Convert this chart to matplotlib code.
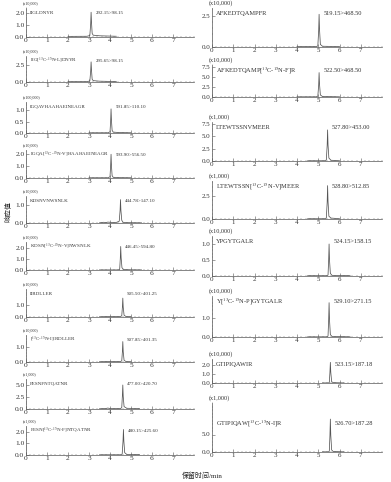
import matplotlib
matplotlib.use("Agg")
import matplotlib.pyplot as plt
from matplotlib.ticker import MultipleLocator, AutoMinorLocator

plt.rcParams["font.family"] = ["Liberation Serif", "Noto Sans CJK SC"]
plt.rcParams["mathtext.fontset"] = "stix"

W, H = 391, 482

# ---- left column ----
left_labels = ["IIGLDNYR", r"IIG[$^{13}$C-$^{15}$N-L]DNYR",
               "IGQAVHAAHAEINEAGR", r"IGQA[$^{13}$C-$^{15}$N-V]HAAHAEINEAGR",
               "KDSNVNWSNLK", r"KDSN[$^{13}$C-$^{15}$N-V]NWSNLK",
               "IIRDLLER", r"[$^{13}$C-$^{15}$N-I]IRDLLER",
               "FESNFNTQATNR", r"FESN[$^{13}$C-$^{15}$N-F]NTQATNR"]
left_trans = ["292.15>98.15", "295.65>98.15", "591.85>110.10", "593.90>556.50",
              "444.78>147.10", "446.45>594.80", "505.50>401.25", "507.85>401.35",
              "477.00>420.70", "480.15>425.60"]
left_scale = ["(x10,000)", "(x10,000)", "(x100,000)", "(x10,000)", "(x10,000)",
              "(x10,000)", "(x10,000)", "(x10,000)", "(x1,000)", "(x1,000)"]
left_yticks = [[0, 1, 2], [0, 2.5], [0, 0.5, 1], [0, 1, 2], [0, 1],
               [0, 1, 2], [0, 1], [0, 1], [0, 2.5, 5], [0, 1, 2]]
left_ymax = [2.4, 3.8, 1.35, 2.3, 1.5, 2.5, 2.3, 1.85, 6.25, 2.5]
left_peak = [3.10, 3.10, 4.05, 4.05, 4.50, 4.51, 4.61, 4.61, 4.61, 4.64]
left_t = [
    [2.0, 2.9, 3.04, 3.08, 3.10, 3.12, 3.15, 3.2, 3.5, 4.3],
    [2.0, 2.9, 3.04, 3.08, 3.10, 3.12, 3.15, 3.2, 3.5, 4.3],
    [3.0, 3.9, 4.0, 4.03, 4.05, 4.07, 4.1, 4.15, 4.4, 5.0],
    [3.0, 3.9, 4.0, 4.03, 4.05, 4.07, 4.1, 4.15, 4.4, 5.0],
    [3.5, 3.7, 3.8, 3.9, 4.1, 4.3, 4.44, 4.48, 4.50, 4.52, 4.56, 4.62, 4.8, 5.5],
    [3.5, 4.4, 4.46, 4.49, 4.51, 4.53, 4.57, 4.65, 5.0, 5.5],
    [3.5, 4.0, 4.5, 4.56, 4.59, 4.61, 4.63, 4.67, 4.75, 5.0],
    [3.5, 4.0, 4.5, 4.56, 4.59, 4.61, 4.63, 4.67, 4.75, 5.0],
    [3.5, 3.8, 3.9, 4.0, 4.5, 4.56, 4.59, 4.61, 4.63, 4.67, 4.8, 5.4],
    [3.5, 4.5, 4.58, 4.62, 4.64, 4.66, 4.7, 4.8, 5.4],
]
left_v = [
    [0.05, 0.06, 0.12, 1.1, 2.05, 1.2, 0.3, 0.15, 0.1, 0.06],
    [0.05, 0.05, 0.15, 1.6, 2.94, 1.7, 0.4, 0.2, 0.12, 0.06],
    [0.01, 0.01, 0.05, 0.5, 1.05, 0.55, 0.12, 0.04, 0.02, 0.01],
    [0.02, 0.02, 0.1, 1.0, 1.95, 1.0, 0.2, 0.06, 0.03, 0.02],
    [0.01, 0.04, 0.02, 0.05, 0.03, 0.03, 0.1, 0.7, 1.3, 0.7, 0.15, 0.04, 0.02, 0.01],
    [0.01, 0.01, 0.05, 1.0, 2.1, 1.1, 0.2, 0.04, 0.02, 0.01],
    [0.02, 0.04, 0.04, 0.1, 0.8, 1.55, 0.8, 0.15, 0.05, 0.03],
    [0.02, 0.03, 0.03, 0.08, 0.7, 1.4, 0.7, 0.12, 0.04, 0.02],
    [0.05, 0.1, 0.2, 0.08, 0.08, 0.3, 2.8, 5.0, 2.6, 0.5, 0.15, 0.08],
    [0.02, 0.02, 0.08, 1.2, 2.2, 1.2, 0.2, 0.05, 0.03],
]
left_box = [(8, 37), (56, 82), (102, 133), (150, 178), (196, 223),
            (242, 270), (289, 317), (335, 362), (379, 409), (426, 455)]

# ---- right column ----
right_labels = ["AFKEDTQAMPFR", r"AFKEDTQAMP[$^{13}$C-$^{15}$N-F]R",
                "LTEWTSSNVMEER", r"LTEWTSSN[$^{13}$C-$^{15}$N-V]MEER",
                "YPGYTGALR", r"Y[$^{13}$C-$^{15}$N-P]GYTGALR",
                "GTIPIQAWIR", r"GTIPIQAW[$^{13}$C-$^{15}$N-I]R"]
right_trans = ["519.15>468.50", "522.50>468.50", "527.80>453.00", "528.80>512.85",
               "524.15>158.15", "529.10>271.15", "523.15>187.18", "526.70>187.28"]
right_scale = ["(x10,000)", "(x10,000)", "(x1,000)", "(x1,000)",
               "(x10,000)", "(x10,000)", "(x10,000)", "(x1,000)"]
right_yticks = [[0, 2.5], [0, 2.5, 5, 7.5], [0, 2.5, 5, 7.5], [0, 2.5],
                [0, 0.5, 1], [0, 1], [0, 1, 2], [0, 5]]
right_ymax = [3.1, 8.0, 7.9, 4.1, 1.25, 2.15, 2.67, 14.0]
right_peak = [5.04, 5.04, 5.44, 5.44, 5.51, 5.51, 5.57, 5.57]
right_t = [
    [4.0, 4.9, 4.98, 5.02, 5.04, 5.06, 5.1, 5.2, 6.0],
    [4.0, 4.9, 4.98, 5.02, 5.04, 5.06, 5.1, 5.2, 6.0],
    [4.5, 5.3, 5.38, 5.42, 5.44, 5.46, 5.5, 5.6, 6.0],
    [4.5, 5.3, 5.38, 5.42, 5.44, 5.46, 5.5, 5.6, 6.0],
    [4.5, 5.4, 5.46, 5.49, 5.51, 5.53, 5.57, 5.65, 6.5],
    [4.5, 5.4, 5.46, 5.49, 5.51, 5.53, 5.57, 5.65, 6.5],
    [5.2, 5.48, 5.52, 5.55, 5.57, 5.59, 5.63, 5.7, 6.2],
    [5.2, 5.48, 5.52, 5.55, 5.57, 5.59, 5.63, 5.7, 6.2],
]
right_v = [
    [0.03, 0.03, 0.08, 1.3, 2.6, 1.4, 0.2, 0.06, 0.03],
    [0.05, 0.05, 0.2, 3.0, 6.1, 3.2, 0.5, 0.12, 0.05],
    [0.05, 0.05, 0.2, 3.2, 6.3, 3.3, 0.6, 0.15, 0.05],
    [0.03, 0.03, 0.1, 1.8, 3.6, 1.9, 0.3, 0.1, 0.03],
    [0.01, 0.01, 0.03, 0.5, 1.0, 0.5, 0.08, 0.02, 0.01],
    [0.01, 0.01, 0.05, 0.9, 1.8, 0.9, 0.12, 0.03, 0.01],
    [0.01, 0.01, 0.05, 1.2, 2.3, 1.2, 0.15, 0.04, 0.01],
    [0.05, 0.05, 0.2, 4.7, 9.4, 4.8, 0.6, 0.15, 0.05],
]
right_box = [(8, 47), (65, 97), (122, 161), (181, 219), (236, 276),
             (296, 337), (359, 383), (403, 452)]

fig = plt.figure(figsize=(W / 100, H / 100), dpi=100)
col = "#555555"
tcol = "#333333"


def panel(x0, x1, top, bottom, t, v, label, trans, scale, yt, ymax, peak,
          fs_tick, fs_lab, fs_scale, lab_dy=-3.5, sc_dy=2.6):
    ax = fig.add_axes([x0 / W, 1 - bottom / H, (x1 - x0) / W, (bottom - top) / H])
    ax.plot(t, v, color=col, lw=0.55)
    ax.set_xlim(0, 8)
    ax.set_ylim(0, ymax)
    ax.set_xticks(range(8))
    ax.xaxis.set_minor_locator(MultipleLocator(0.2))
    ax.set_yticks(yt)
    ax.set_yticklabels(["%.1f" % y for y in yt])
    ax.yaxis.set_minor_locator(AutoMinorLocator(5))
    for s in ["top", "right"]:
        ax.spines[s].set_visible(False)
    for s in ["left", "bottom"]:
        ax.spines[s].set_linewidth(0.5)
        ax.spines[s].set_color(col)
    ax.tick_params(which="major", direction="in", length=2, width=0.4,
                   labelsize=fs_tick, pad=1.2, colors=col, labelcolor=tcol)
    ax.tick_params(axis="x", which="major", pad=1.0)
    ax.tick_params(which="minor", direction="in", length=1, width=0.3, colors=col)
    ax.annotate(scale, xy=(0, 1), xycoords="axes fraction", xytext=(-2, sc_dy),
                textcoords="offset points", fontsize=fs_scale, va="center",
                ha="left", color=tcol)
    ax.annotate(label, xy=(0, 1), xycoords="axes fraction", xytext=(3, lab_dy),
                textcoords="offset points", fontsize=fs_lab, va="center",
                ha="left", color=tcol)
    ax.annotate(trans, xy=(peak + 0.2, 1), xycoords=("data", "axes fraction"),
                xytext=(0, lab_dy), textcoords="offset points", fontsize=fs_lab,
                va="center", ha="left", color=tcol, annotation_clip=False)
    return ax


for i in range(10):
    top, bottom = left_box[i]
    panel(26, 194, top, bottom, left_t[i], left_v[i], left_labels[i], left_trans[i],
          left_scale[i], left_yticks[i], left_ymax[i], left_peak[i],
          fs_tick=5.3, fs_lab=3.6, fs_scale=3.0)

for i in range(8):
    top, bottom = right_box[i]
    panel(212, 382, top, bottom, right_t[i], right_v[i], right_labels[i], right_trans[i],
          right_scale[i], right_yticks[i], right_ymax[i], right_peak[i],
          fs_tick=5.0, fs_lab=4.6, fs_scale=4.4,
          lab_dy=-15 if i == 7 else -4, sc_dy=3.5)

fig.text(202 / W, 1 - 475 / H, "保留时间/min", ha="center", va="center",
         fontsize=5, color="#222222")
fig.text(8 / W, 1 - 212 / H, "响应值", ha="center", va="center", rotation=90,
         fontsize=5, color="#222222")

fig.savefig("out.png", dpi=100)
